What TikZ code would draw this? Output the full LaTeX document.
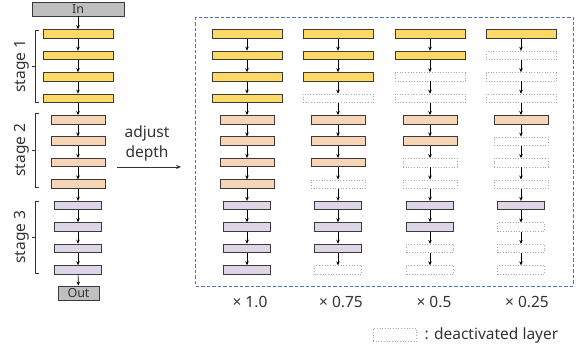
\documentclass[tikz,border=0pt]{standalone}
\usepackage{fontspec}
\setmainfont{Noto Sans}
\usetikzlibrary{arrows.meta}
\definecolor{yel}{HTML}{FFD966}
\definecolor{pch}{HTML}{F9D5B8}
\definecolor{lav}{HTML}{DCD6E6}
\definecolor{gry}{HTML}{BFBFBF}
\definecolor{edg}{HTML}{3A3A3A}
\definecolor{dbl}{HTML}{4F75B8}
\definecolor{txt}{HTML}{333333}
\tikzset{
  layer/.style={draw=edg,line width=1pt,minimum height=8.5pt,inner sep=0pt},
  s1/.style={layer,fill=yel,minimum width=70pt},
  s2/.style={layer,fill=pch,minimum width=54pt},
  s3/.style={layer,fill=lav,minimum width=47pt},
  off/.style={draw=gray!70,dotted,line width=0.7pt,fill=white,minimum height=8.5pt,inner sep=0pt},
  o1/.style={off,minimum width=70pt},
  o2/.style={off,minimum width=54pt},
  o3/.style={off,minimum width=47pt},
  io/.style={draw=edg,line width=0.8pt,fill=gry,inner sep=0pt,text=txt,font=\fontsize{12.5}{12.5}\selectfont},
  conn/.style={-{Stealth[length=4pt,width=3.5pt]},line width=0.7pt,black},
  lbl/.style={font=\fontsize{15.5}{20}\selectfont,text=txt},
  brk/.style={line width=0.7pt,black!80}
}
\begin{document}
\begin{tikzpicture}[x=1pt,y=-1pt]
\useasboundingbox (0,0) rectangle (579,347);
% left column
\node[io,minimum width=92pt,minimum height=14pt] (in) at (78,9) {In};
\foreach \i in {1,...,12}{
  \pgfmathsetmacro{\yy}{34+21.45*(\i-1)}
  \pgfmathtruncatemacro{\st}{int((\i-1)/4)+1}
  \node[s\st] (L\i) at (78,\yy) {};
}
\node[io,minimum width=41pt,minimum height=14pt] (out) at (78.5,293) {Out};
\draw[conn] (in) -- (L1);
\foreach \i [evaluate=\i as \j using int(\i+1)] in {1,...,11}{
  \draw[conn] (L\i) -- (L\j);
}
\draw[conn] (L12) -- (out);
% brackets
\foreach \a/\b/\n in {30/102/1,113/187/2,201/273/3}{
  \draw[brk] (39,\a) -- (35,\a) -- (35,\b) -- (39,\b);
  \draw[brk] (35,{(\a+\b)/2}) -- (31.5,{(\a+\b)/2});
  \node[lbl,rotate=90] (st\n) at (22,{(\a+\b)/2}) {stage \n};
}
% adjust depth
\node[lbl,align=center] (adj) at (147,143) {adjust\\depth};
\coordinate (a0) at (117,167);
\coordinate (a1) at (181,167);
\draw[-{Stealth[length=5pt,width=4pt]},line width=0.7pt,black!80] (a0) -- (a1);
% dashed box
\draw[dbl,dashed,dash pattern=on 3.5pt off 2pt,line width=0.9pt] (195,17) rectangle (573,286);
% right columns
\foreach \k/\cx/\act in {1/247/4,2/338/3,3/430/2,4/521/1}{
  \foreach \i in {1,...,12}{
    \pgfmathsetmacro{\yy}{34+21.45*(\i-1)}
    \pgfmathtruncatemacro{\st}{int((\i-1)/4)+1}
    \pgfmathtruncatemacro{\pos}{\i-4*(\st-1)}
    \ifnum\pos>\act
      \node[o\st] (c\k r\i) at (\cx,\yy) {};
    \else
      \node[s\st] (c\k r\i) at (\cx,\yy) {};
    \fi
  }
  \foreach \i [evaluate=\i as \j using int(\i+1)] in {1,...,11}{
    \draw[conn] (c\k r\i) -- (c\k r\j);
  }
}
\node[lbl] (m1) at (250,302) {× 1.0};
\node[lbl] (m2) at (341,302) {× 0.75};
\node[lbl] (m3) at (434,302) {× 0.5};
\node[lbl] (m4) at (527,302) {× 0.25};
% legend
\node[off,minimum width=43pt,minimum height=13pt] (leg) at (394.5,335) {};
\node[lbl,anchor=west] (legt) at (421,335) {: deactivated layer};
\end{tikzpicture}
\end{document}
